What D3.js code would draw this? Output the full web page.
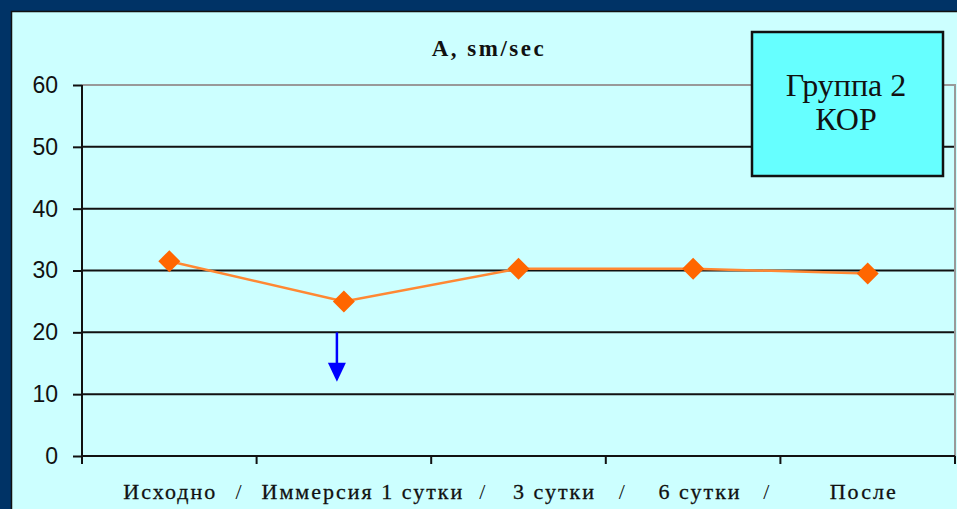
<!DOCTYPE html>
<html>
<head>
<meta charset="utf-8">
<script src="https://cdn.jsdelivr.net/npm/d3@7"></script>
<style>
  html, body { margin: 0; padding: 0; background: #003366; }
  svg { display: block; }
</style>
</head>
<body>
<svg id="chart" width="957" height="509"></svg>
<script>
// Stage names along the horizontal axis
const categories = ["Исходно", "Иммерсия 1 сутки", "3 сутки", "6 сутки", "После"];
// Amplitude, sm/sec, per stage
const amplitude = [31.5, 25.0, 30.3, 30.3, 29.5];
// Vertical axis ticks
const yTicks = [0, 10, 20, 30, 40, 50, 60];
// Downward arrow under the immersion stage: from / to value
const arrowFrom = [20];
const arrowTo = [12];

const W = 957, H = 509;
const svg = d3.select("#chart");

// Light panel on the dark background
svg.append("rect").attr("x", 11.5).attr("y", 11.5).attr("width", W).attr("height", H)
  .attr("fill", "#ccffff").attr("stroke", "#111").attr("stroke-width", 1.5);

const plotL = 82, plotR = 955, plotT = 85, plotB = 456;

const y = d3.scaleLinear().domain([0, 60]).range([plotB, plotT]);
const x = d3.scalePoint().domain(categories).range([plotL, plotR]).padding(0.5);
const band = d3.scaleBand().domain(categories).range([plotL, plotR]);

// Horizontal gridlines
svg.append("g").selectAll("line").data(yTicks.filter(d => d > 0 && d < 60)).join("line")
  .attr("x1", plotL).attr("x2", plotR)
  .attr("y1", d => y(d)).attr("y2", d => y(d))
  .attr("stroke", "#111").attr("stroke-width", 2);

// Plot area border (top and right)
svg.append("path")
  .attr("d", `M${plotL},${y(60)}H${plotR}V${y(0)}`)
  .attr("fill", "none").attr("stroke", "#999").attr("stroke-width", 2);

// Y axis
const yAxis = svg.append("g").attr("transform", `translate(${plotL},0)`)
  .call(d3.axisLeft(y).tickValues(yTicks).tickSize(9).tickPadding(15));
yAxis.select(".domain").attr("d", `M0,${y(60)}V${y(0) + 8}`).attr("stroke", "#111").attr("stroke-width", 2);
yAxis.selectAll(".tick line").attr("stroke", "#111").attr("stroke-width", 2);
yAxis.selectAll(".tick text")
  .attr("font-family", "Liberation Sans, Arial, sans-serif").attr("font-size", 23).attr("fill", "#111");

// X axis baseline and tick marks between stages
svg.append("line").attr("x1", plotL).attr("x2", plotR).attr("y1", y(0)).attr("y2", y(0))
  .attr("stroke", "#111").attr("stroke-width", 2);
const bounds = categories.map(c => band(c)).concat([band(categories[categories.length - 1]) + band.bandwidth()]);
svg.append("g").selectAll("line").data(bounds).join("line")
  .attr("x1", d => d).attr("x2", d => d)
  .attr("y1", y(0)).attr("y2", y(0) + 8)
  .attr("stroke", "#111").attr("stroke-width", 2);

// Stage labels, separated by slashes
const labelShift = [1, 19, 36, 7, -4];
const labelFont = "Liberation Serif, Times New Roman, serif";
svg.append("g").selectAll("text").data(categories).join("text")
  .attr("x", (d, i) => x(d) + labelShift[i]).attr("y", 499)
  .attr("text-anchor", "middle")
  .attr("font-family", labelFont).attr("font-size", 22).attr("letter-spacing", 2)
  .attr("fill", "#111").attr("stroke", "#111").attr("stroke-width", 0.3)
  .text(d => d);
const slashShift = [-18, 51, 16, -14];
svg.append("g").selectAll("text").data(bounds.slice(1, -1)).join("text")
  .attr("x", (d, i) => d + slashShift[i]).attr("y", 499)
  .attr("text-anchor", "middle")
  .attr("font-family", labelFont).attr("font-size", 22).attr("fill", "#111")
  .text("/");

// Series line and diamond markers
const pts = categories.map((c, i) => [x(c), y(amplitude[i])]);
svg.append("path").attr("d", d3.line()(pts))
  .attr("fill", "none").attr("stroke", "#ff8833").attr("stroke-width", 2.5);
svg.append("g").selectAll("path").data(pts).join("path")
  .attr("transform", d => `translate(${d[0]},${d[1]})`)
  .attr("d", "M0,-11L11,0L0,11L-11,0Z")
  .attr("fill", "#ff6600");

// Blue downward arrow
const ax = x(categories[1]) - 7;
svg.append("line").attr("x1", ax).attr("x2", ax)
  .attr("y1", y(arrowFrom[0])).attr("y2", y(arrowTo[0]) - 14)
  .attr("stroke", "#0000ff").attr("stroke-width", 2.5);
svg.append("path")
  .attr("d", `M${ax - 9},${y(arrowTo[0]) - 19}L${ax + 9},${y(arrowTo[0]) - 19}L${ax},${y(arrowTo[0])}Z`)
  .attr("fill", "#0000ff");

// Title
svg.append("text").attr("x", 489).attr("y", 56).attr("text-anchor", "middle")
  .attr("font-family", labelFont).attr("font-weight", "bold").attr("font-size", 23)
  .attr("letter-spacing", 2.5).attr("fill", "#111")
  .text("A, sm/sec");

// Group box
svg.append("rect").attr("x", 752).attr("y", 32).attr("width", 191).attr("height", 144)
  .attr("fill", "#66ffff").attr("stroke", "#111").attr("stroke-width", 2.5);
svg.append("text").attr("x", 846).attr("y", 96).attr("text-anchor", "middle")
  .attr("font-family", labelFont).attr("font-size", 32).attr("fill", "#111")
  .text("Группа 2");
svg.append("text").attr("x", 846).attr("y", 130).attr("text-anchor", "middle")
  .attr("font-family", labelFont).attr("font-size", 32).attr("fill", "#111")
  .text("КОР");
</script>
</body>
</html>
